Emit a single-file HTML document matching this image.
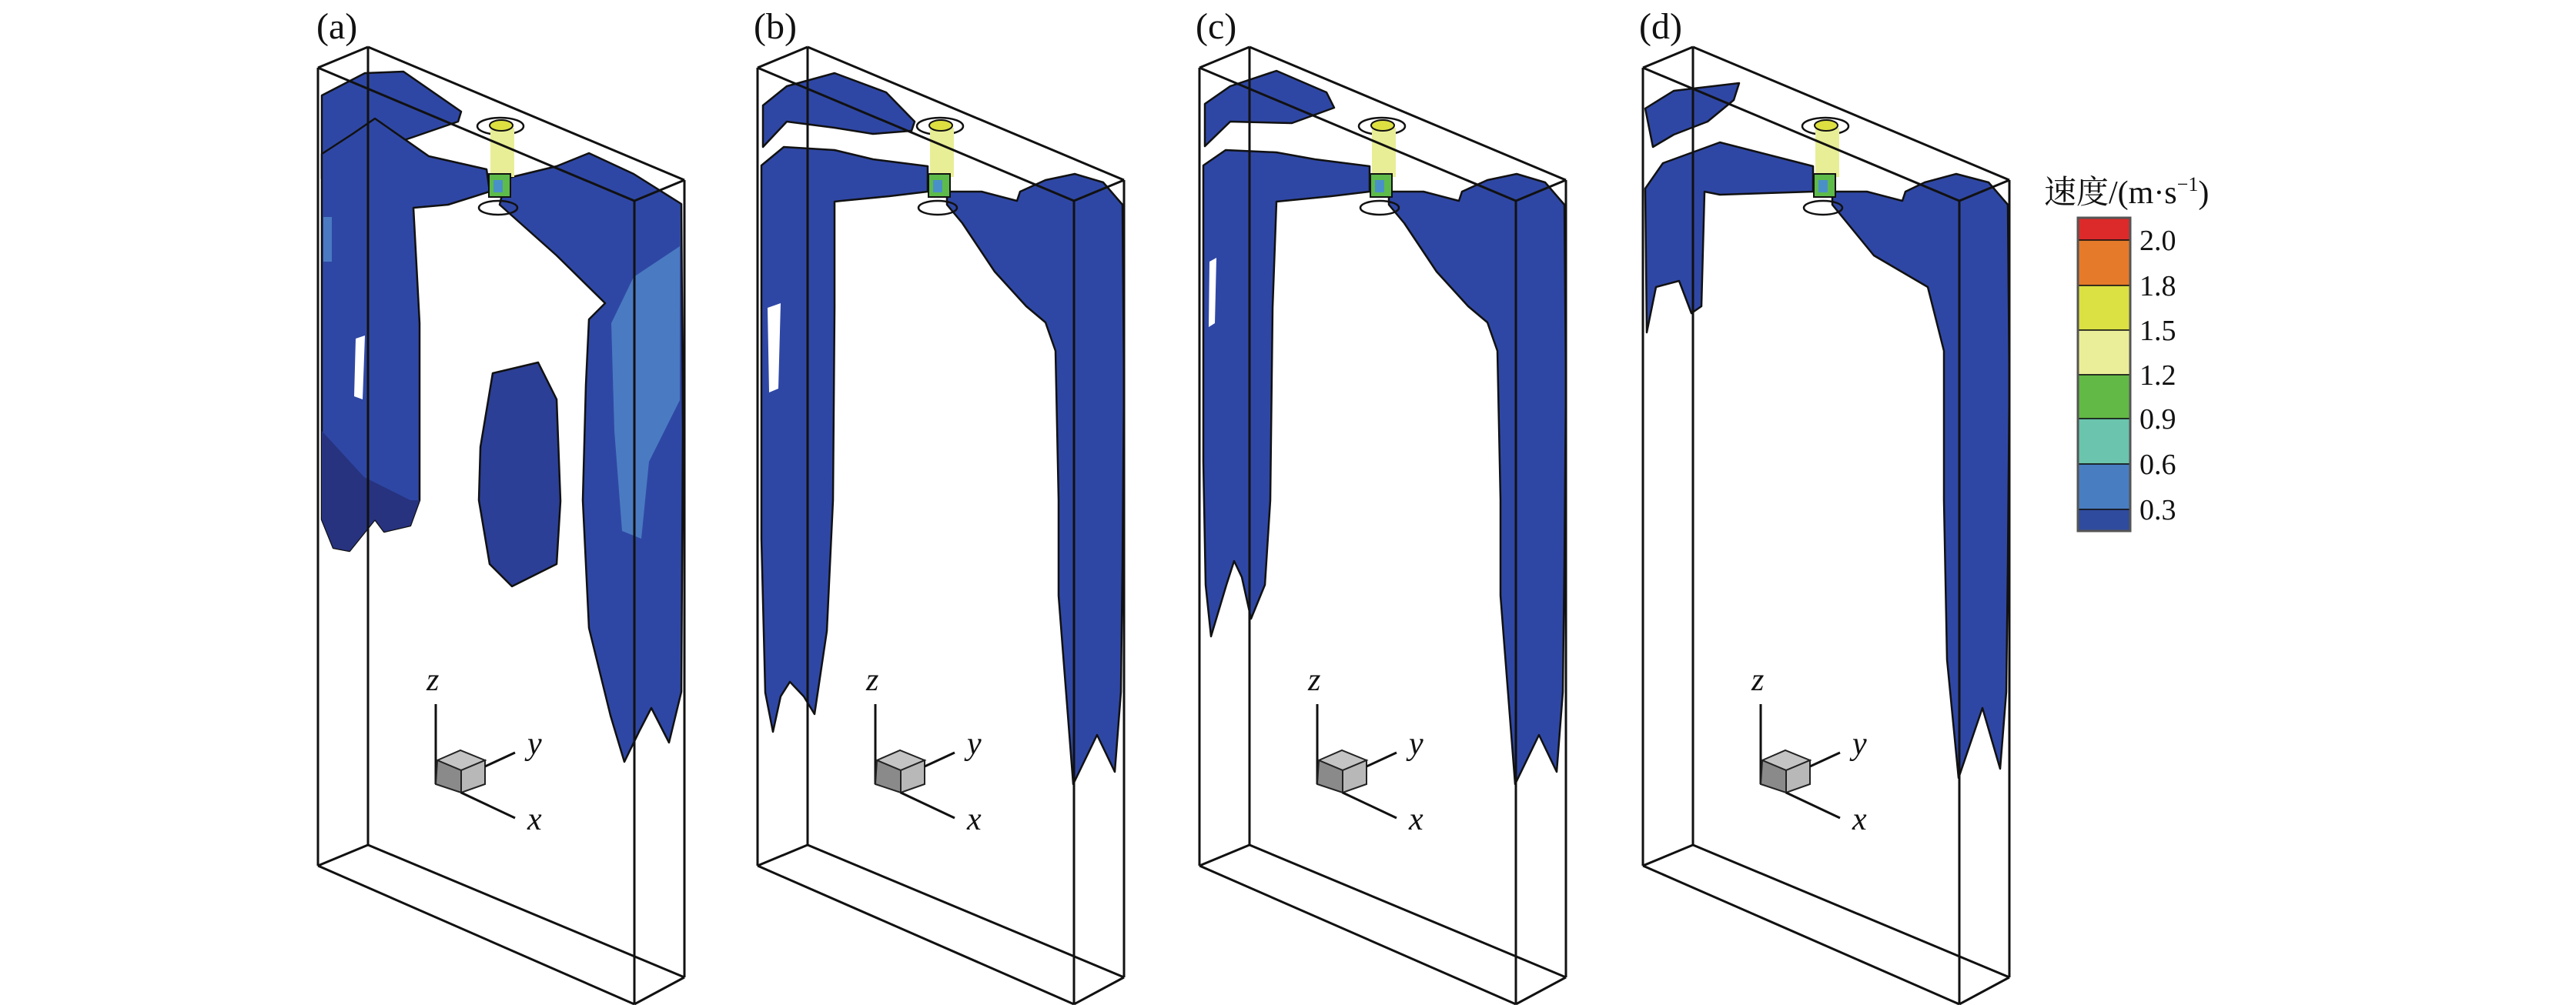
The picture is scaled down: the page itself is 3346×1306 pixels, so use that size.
<!DOCTYPE html>
<html><head><meta charset="utf-8"><style>
html,body{margin:0;padding:0;background:#fff;}
svg{display:block;}
text{font-family:"Liberation Serif","Noto Serif CJK SC",serif;fill:#111;}
</style></head><body>
<svg width="3346" height="1306" viewBox="0 0 3346 1306" xmlns="http://www.w3.org/2000/svg">
<defs>
  <g id="box" fill="none" stroke="#111" stroke-width="3">
    <line x1="0" y1="88" x2="0" y2="1125"/>
    <line x1="65" y1="61" x2="65" y2="1098"/>
    <line x1="411" y1="261" x2="411" y2="1305"/>
    <line x1="476" y1="234" x2="476" y2="1270"/>
    <line x1="0" y1="88" x2="411" y2="261"/>
    <line x1="65" y1="61" x2="476" y2="234"/>
    <line x1="0" y1="88" x2="65" y2="61"/>
    <line x1="411" y1="261" x2="476" y2="234"/>
    <line x1="0" y1="1125" x2="411" y2="1305"/>
    <line x1="65" y1="1098" x2="476" y2="1270"/>
    <line x1="0" y1="1125" x2="65" y2="1098"/>
    <line x1="411" y1="1305" x2="476" y2="1270"/>
  </g>
  <g id="triad">
    <line x1="153" y1="915" x2="153" y2="1019" stroke="#111" stroke-width="3"/>
    <polygon points="155,988 185,975 217,988 186,1001" fill="#c4c4c4" stroke="#222" stroke-width="2"/>
    <polygon points="155,988 186,1001 186,1030 153,1019" fill="#8a8a8a" stroke="#222" stroke-width="2"/>
    <polygon points="186,1001 217,988 217,1019 186,1030" fill="#b8b8b8" stroke="#222" stroke-width="2"/>
    <line x1="217" y1="996" x2="256" y2="978" stroke="#111" stroke-width="3"/>
    <line x1="186" y1="1030" x2="256" y2="1063" stroke="#111" stroke-width="3"/>
    <text x="141" y="897" font-size="42" font-style="italic">z</text>
    <text x="272" y="980" font-size="42" font-style="italic">y</text>
    <text x="272" y="1078" font-size="42" font-style="italic">x</text>
  </g>
  <g id="jet">
    <ellipse cx="237" cy="164" rx="30" ry="11" fill="none" stroke="#111" stroke-width="2.5"/>
    <ellipse cx="234" cy="270" rx="25" ry="9" fill="none" stroke="#111" stroke-width="2.5"/>
    <rect x="224" y="166" width="31" height="64" fill="#e8ee95"/>
    <ellipse cx="238" cy="163" rx="15" ry="7" fill="#dde040" stroke="#111" stroke-width="2"/>
    <rect x="222" y="226" width="28" height="30" fill="#5dbb4a" stroke="#111" stroke-width="2"/>
    <rect x="228" y="234" width="12" height="16" fill="#4a90c8"/>
  </g>
</defs>

<!-- Panel (a) -->
<g transform="translate(413,0)">
  <g fill="#2f47a4" stroke="#111" stroke-width="2.5" stroke-linejoin="round">
    <path d="M5,124 L61,95 L111,93 L186,145 L182,158 L124,178 L61,199 L5,232 Z"/>
    <path d="M5,200 L45,174 L74,154 L144,203 L219,220 L223,249 L169,266 L124,270 L132,420 L132,650 L120,683 L86,691 L74,675 L41,716 L20,712 L5,675 Z"/>
    <path d="M244,232 L310,216 L352,199 L410,226 L472,265 L474,560 L472,899 L456,965 L433,920 L418,949 L398,990 L380,930 L352,816 L344,650 L348,500 L352,415 L373,394 L310,332 L236,266 Z"/>
    <path d="M227,485 L286,471 L310,519 L315,651 L310,733 L252,762 L223,733 L209,650 L211,581 Z" fill="#2c3f96"/>
  </g>
  <path d="M381,420 L410,360 L470,320 L470,520 L430,600 L420,700 L395,690 L385,560 Z" fill="#4a7bc2"/>
  <path d="M7,282 L18,282 L18,340 L7,340 Z" fill="#4a7bc2"/>
  <path d="M49,440 L61,436 L58,519 L47,515 Z" fill="#fff"/>
  <path d="M5,560 L60,620 L120,650 L132,650 L120,683 L86,691 L74,675 L41,716 L20,712 L5,675 Z" fill="#27337f"/>
  <use href="#jet"/>
  <use href="#box"/>
  <use href="#triad"/>
  <text x="-2" y="50" font-size="48">(a)</text>
</g>

<!-- Panel (b) -->
<g transform="translate(984,0)">
  <g fill="#2f47a4" stroke="#111" stroke-width="2.5" stroke-linejoin="round">
    <path d="M7,137 L38,112 L100,95 L167,120 L204,158 L200,170 L150,174 L100,166 L38,158 L7,191 Z"/>
    <path d="M5,215 L34,191 L100,195 L150,207 L221,216 L221,249 L171,255 L109,261 L100,262 L100,400 L98,650 L90,820 L74,928 L60,905 L42,886 L30,905 L20,951 L10,900 L5,700 Z"/>
    <path d="M246,249 L291,249 L337,261 L341,249 L374,234 L412,226 L449,237 L474,266 L476,500 L474,733 L472,899 L464,1003 L441,955 L410,1019 L391,774 L391,650 L387,456 L374,419 L349,398 L308,353 L266,290 L246,266 Z"/>
  </g>
  <path d="M13,400 L30,394 L27,505 L15,510 Z" fill="#fff"/>
  <use href="#jet"/>
  <use href="#box"/>
  <use href="#triad"/>
  <text x="-5" y="50" font-size="48">(b)</text>
</g>

<!-- Panel (c) -->
<g transform="translate(1558,0)">
  <g fill="#2f47a4" stroke="#111" stroke-width="2.5" stroke-linejoin="round">
    <path d="M7,135 L40,112 L100,92 L165,120 L175,140 L120,160 L40,158 L7,190 Z"/>
    <path d="M5,215 L34,195 L100,198 L150,207 L221,216 L221,249 L171,255 L100,262 L95,400 L92,650 L85,760 L67,804 L55,750 L45,729 L35,760 L15,827 L8,760 L5,600 Z"/>
    <path d="M246,249 L291,249 L337,261 L341,249 L374,234 L412,226 L449,237 L474,266 L476,500 L474,733 L472,899 L464,1003 L441,955 L410,1019 L391,774 L391,650 L387,456 L374,419 L349,398 L308,353 L266,290 L246,266 Z"/>
  </g>
  <path d="M13,340 L22,335 L20,420 L12,425 Z" fill="#fff"/>
  <use href="#jet"/>
  <use href="#box"/>
  <use href="#triad"/>
  <text x="-5" y="50" font-size="48">(c)</text>
</g>

<!-- Panel (d) -->
<g transform="translate(2134,0)">
  <g fill="#2f47a4" stroke="#111" stroke-width="2.5" stroke-linejoin="round">
    <path d="M3,141 L40,118 L125,108 L118,130 L84,158 L40,175 L13,191 Z"/>
    <path d="M26,212 L100,185 L221,216 L221,249 L100,253 L80,249 L76,398 L63,407 L47,365 L17,373 L5,432 L3,245 Z"/>
    <path d="M246,249 L291,249 L337,261 L341,249 L366,237 L407,226 L449,237 L474,266 L476,500 L474,733 L472,899 L464,999 L441,920 L410,1011 L395,857 L391,650 L391,456 L370,373 L300,332 L246,266 Z"/>
  </g>
  <use href="#jet"/>
  <use href="#box"/>
  <use href="#triad"/>
  <text x="-5" y="50" font-size="48">(d)</text>
</g>

<!-- Legend -->
<text x="2655" y="264" font-size="42">速度/(m·s<tspan font-size="26" dy="-16">−1</tspan><tspan dy="16">)</tspan></text>
<g stroke="#111" stroke-width="1.5">
  <rect x="2699" y="283" width="68" height="29" fill="#dc2a2a"/>
  <rect x="2699" y="312" width="68" height="59" fill="#e57a2a"/>
  <rect x="2699" y="371" width="68" height="58" fill="#dbe043"/>
  <rect x="2699" y="429" width="68" height="58" fill="#ebee98"/>
  <rect x="2699" y="487" width="68" height="57" fill="#63b946"/>
  <rect x="2699" y="544" width="68" height="59" fill="#6bc4ad"/>
  <rect x="2699" y="603" width="68" height="59" fill="#487dc1"/>
  <rect x="2699" y="662" width="68" height="28" fill="#2f4b9e"/>
</g>
<rect x="2699" y="283" width="68" height="407" fill="none" stroke="#555" stroke-width="3"/>
<g font-size="38">
  <text x="2779" y="325">2.0</text>
  <text x="2779" y="384">1.8</text>
  <text x="2779" y="442">1.5</text>
  <text x="2779" y="500">1.2</text>
  <text x="2779" y="557">0.9</text>
  <text x="2779" y="616">0.6</text>
  <text x="2779" y="675">0.3</text>
</g>
</svg>
</body></html>
